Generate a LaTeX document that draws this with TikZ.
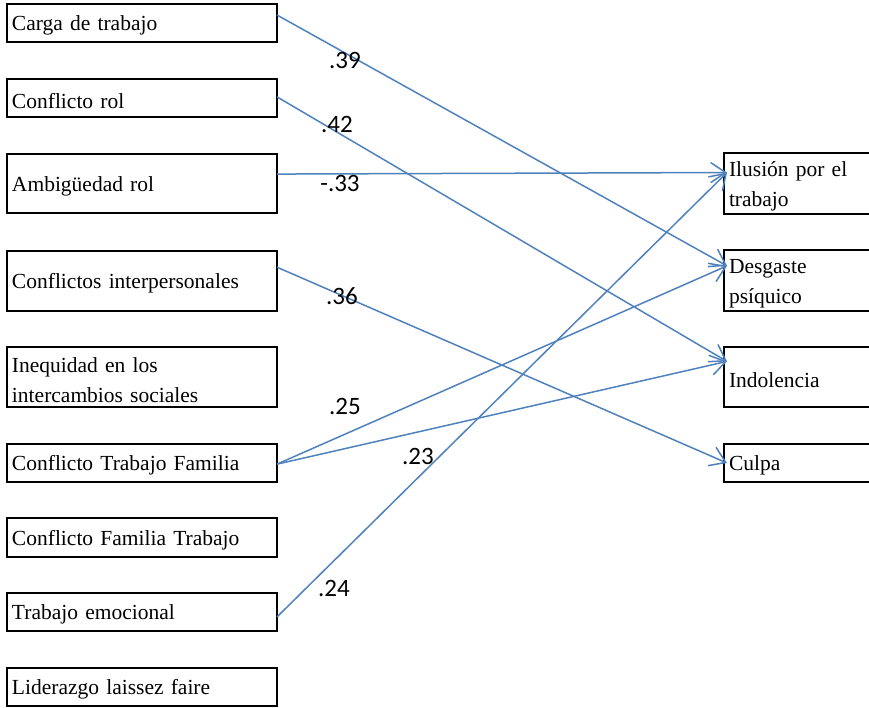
\documentclass[tikz,border=0pt]{standalone}
\usepackage{fontspec}
\setmainfont{Liberation Serif}
\newfontfamily\boxfont{Liberation Serif}
\newfontfamily\labfont{Carlito}
\usetikzlibrary{arrows.meta,calc}
\definecolor{pathblue}{HTML}{4F81BD}
\begin{document}
\begin{tikzpicture}[x=1pt,y=-1pt,
  lbox/.style={draw,line width=2pt,anchor=north west,minimum width=270pt,
    text width=260pt,inner xsep=5pt,inner ysep=0pt,outer sep=0pt,align=left,
    font=\boxfont\fontsize{21.5pt}{30pt}\selectfont,
    execute at begin node={\rule{0pt}{20.5pt}}},
  rbox/.style={draw,line width=2pt,anchor=north west,minimum width=170pt,
    text width=160pt,inner xsep=4pt,inner ysep=0pt,outer sep=0pt,align=left,
    font=\boxfont\fontsize{21.5pt}{30pt}\selectfont,
    execute at begin node={\rule{0pt}{20.5pt}}},
  coef/.style={font=\labfont\fontsize{25pt}{28pt}\selectfont,inner sep=0pt},
  path/.style={draw=pathblue,line width=1.5pt,
    -{Straight Barb[length=15pt,width=20pt,line width=1.5pt]}}
]
\useasboundingbox (0,0) rectangle (869,707);
\clip (0,0) rectangle (869,707);
% left boxes
\node[lbox,minimum height=38pt] (carga) at (7,4) {Carga de trabajo};
\node[lbox,minimum height=38pt] (crol) at (7,79) {Conflicto rol};
\node[lbox,minimum height=59pt] (amb) at (7,154) {Ambigüedad rol};
\node[lbox,minimum height=60pt] (cint) at (7,251) {Conflictos interpersonales};
\node[lbox,minimum height=60pt] (ineq) at (7,347) {Inequidad en los\\intercambios sociales};
\node[lbox,minimum height=38pt] (ctf) at (7,444) {Conflicto Trabajo Familia};
\node[lbox,minimum height=39pt] (cft) at (7,518) {Conflicto Familia Trabajo};
\node[lbox,minimum height=38pt] (temo) at (7,593) {Trabajo emocional};
\node[lbox,minimum height=38pt] (lid) at (7,668) {Liderazgo laissez faire};
% right boxes
\node[rbox,minimum height=61pt] (ilu) at (724,153) {Ilusión por el\\trabajo};
\node[rbox,minimum height=61pt] (desg) at (724,250) {Desgaste\\psíquico};
\node[rbox,minimum height=60pt] (indo) at (724,347) {Indolencia};
\node[rbox,minimum height=38pt] (culpa) at (724,444) {Culpa};
% connector ends
\coordinate (carga-o) at ($(carga.north east)!0.29!(carga.south east)$);
\coordinate (crol-o) at ($(crol.north east)!0.47!(crol.south east)$);
\coordinate (amb-o) at ($(amb.north east)!0.34!(amb.south east)$);
\coordinate (cint-o) at ($(cint.north east)!0.27!(cint.south east)$);
\coordinate (ctf-o) at ($(ctf.north east)!0.53!(ctf.south east)$);
\coordinate (temo-o) at ($(temo.north east)!0.63!(temo.south east)$);
\coordinate (ilu-i) at ($(ilu.north west)!0.32!(ilu.south west)+(3,0)$);
\coordinate (desg-i) at ($(desg.north west)!0.26!(desg.south west)+(3,0)$);
\coordinate (indo-i) at ($(indo.north west)!0.24!(indo.south west)+(3,0)$);
\coordinate (culpa-i) at ($(culpa.north west)!0.5!(culpa.south west)+(3,0)$);
% paths
\draw[path] (carga-o) -- (desg-i);
\draw[path] (crol-o) -- (indo-i);
\draw[path] (amb-o) -- (ilu-i);
\draw[path] (cint-o) -- (culpa-i);
\draw[path] (ctf-o) -- (desg-i);
\draw[path] (ctf-o) -- (indo-i);
\draw[path] (temo-o) -- (ilu-i);
% coefficients
\node[coef] (c39) at (345,60) {.39};
\node[coef] (c42) at (337,124) {.42};
\node[coef] (c33) at (340,183) {-.33};
\node[coef] (c36) at (342,296) {.36};
\node[coef] (c25) at (345,406) {.25};
\node[coef] (c23) at (418,456) {.23};
\node[coef] (c24) at (334,588) {.24};
\end{tikzpicture}
\end{document}
